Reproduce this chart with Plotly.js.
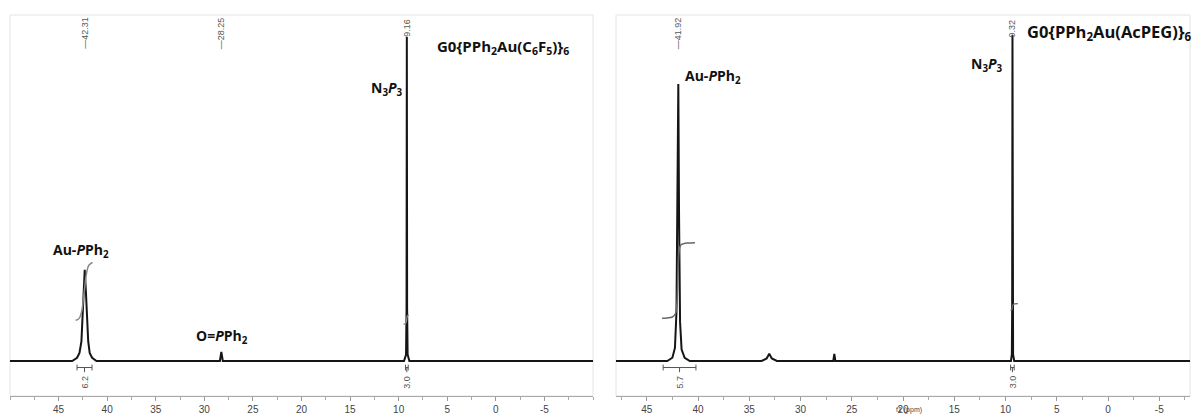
<!DOCTYPE html>
<html>
<head>
<meta charset="utf-8">
<script src="https://cdn.plot.ly/plotly-3.0.1.min.js"></script>
<style>html,body{margin:0;padding:0;background:#fff;}#chart{width:1192px;height:414px;}</style>
</head>
<body>
<div id="chart"></div>
<script>
// ---------- DATA ----------
// Left spectrum: G0{PPh2Au(C6F5)}6  (ppm, relative intensity)
const leftPpm = [50, 43.6, 43.1, 42.85, 42.65, 42.5, 42.4, 42.31, 42.2, 42.1, 41.95, 41.8, 41.55, 41.1,
                 28.4, 28.25, 28.1, 9.45, 9.24, 9.19, 9.16, 9.13, 9.08, 8.9, -10];
const leftInt = [0, 0, 0.01, 0.025, 0.06, 0.15, 0.24, 0.28, 0.22, 0.13, 0.06, 0.025, 0.01, 0,
                 0, 0.028, 0, 0, 0.02, 0.16, 0.995, 0.16, 0.02, 0, 0];
// Left integral curves
const leftIntegAuPpm = [43.25, 43.0, 42.8, 42.6, 42.45, 42.31, 42.2, 42.05, 41.9, 41.7, 41.5];
const leftIntegAuVal = [0.125, 0.128, 0.135, 0.155, 0.19, 0.225, 0.255, 0.28, 0.293, 0.299, 0.302];
const leftIntegNPpm = [9.5, 9.3, 9.2, 9.16, 9.1, 8.95];
const leftIntegNVal = [0.112, 0.115, 0.122, 0.132, 0.139, 0.141];
// Left peak picks and integrations
const leftPeaks = [42.31, 28.25, 9.16];
const leftPeakText = ['\u201442.31', '\u201428.25', '9.16'];
const leftRanges = [[43.1, 41.56], [9.3, 9.02]];
const leftRangeVals = ['6.2', '3.0'];

// Right spectrum: G0{PPh2Au(AcPEG)}6
const rightPpm = [48, 43.0, 42.5, 42.25, 42.1, 42.0, 41.92, 41.85, 41.75, 41.6, 41.3, 40.8,
                  33.8, 33.3, 33.05, 32.8, 32.3, 26.8, 26.7, 26.6,
                  9.47, 9.38, 9.35, 9.32, 9.29, 9.26, 9.15, -8];
const rightInt = [0, 0, 0.01, 0.04, 0.15, 0.45, 0.85, 0.45, 0.12, 0.035, 0.01, 0,
                  0, 0.008, 0.022, 0.008, 0, 0, 0.022, 0,
                  0, 0.02, 0.16, 1.0, 0.16, 0.02, 0, 0];
const rightIntegAuPpm = [43.5, 43.0, 42.5, 42.2, 42.05, 41.95, 41.85, 41.7, 41.4, 40.9, 40.3];
const rightIntegAuVal = [0.131, 0.132, 0.135, 0.145, 0.18, 0.27, 0.335, 0.355, 0.36, 0.362, 0.363];
const rightIntegNPpm = [9.5, 9.36, 9.32, 9.28, 9.1, 8.8];
const rightIntegNVal = [0.155, 0.158, 0.166, 0.172, 0.175, 0.176];
const rightPeaks = [41.92, 9.32];
const rightPeakText = ['\u201441.92', '9.32'];
const rightRanges = [[43.4, 40.2], [9.5, 9.15]];
const rightRangeVals = ['5.7', '3.0'];

// Axis ticks
const tickVals = [45, 40, 35, 30, 25, 20, 15, 10, 5, 0, -5];
const tickText = ['45', '40', '35', '30', '25', '20', '15', '10', '5', '0', '-5'];

// ---------- LAYOUT HELPERS ----------
const W = 1192, H = 414;
const px = x => x / W;
const py = y => 1 - y / H;
const tick = 0.009;     // bracket end-tick half height (data units)
const brY = -0.02;      // bracket level below baseline

function bracket(ranges, xa, ya) {
  const xs = [], ys = [];
  ranges.forEach(r => {
    const a = r[0], b = r[1], m = (a + b) / 2;
    xs.push(a, a, null, a, b, null, b, b, null, m, m, null);
    ys.push(brY - tick, brY + tick, null, brY, brY, null, brY - tick, brY + tick, null, brY, brY - 1.6 * tick, null);
  });
  return {x: xs, y: ys, xaxis: xa, yaxis: ya, mode: 'lines', line: {color: '#555', width: 1}, hoverinfo: 'skip'};
}

const traces = [
  {x: leftPpm, y: leftInt, xaxis: 'x', yaxis: 'y', mode: 'lines', line: {color: '#151515', width: 2}},
  {x: leftIntegAuPpm, y: leftIntegAuVal, xaxis: 'x', yaxis: 'y', mode: 'lines', line: {color: '#8a8a8a', width: 1.5, shape: 'spline'}},
  {x: leftIntegNPpm, y: leftIntegNVal, xaxis: 'x', yaxis: 'y', mode: 'lines', line: {color: '#8a8a8a', width: 1.3, shape: 'spline'}},
  bracket(leftRanges, 'x', 'y'),
  {x: rightPpm, y: rightInt, xaxis: 'x2', yaxis: 'y2', mode: 'lines', line: {color: '#151515', width: 2}},
  {x: rightIntegAuPpm, y: rightIntegAuVal, xaxis: 'x2', yaxis: 'y2', mode: 'lines', line: {color: '#666', width: 1.5, shape: 'spline'}},
  {x: rightIntegNPpm, y: rightIntegNVal, xaxis: 'x2', yaxis: 'y2', mode: 'lines', line: {color: '#666', width: 1.3, shape: 'spline'}},
  bracket(rightRanges, 'x2', 'y2')
];

const yRange = [-35 / 326, 346 / 326];
const yDom = [py(396), py(15)];

const xCommon = {
  tickmode: 'array', tickvals: tickVals, ticktext: tickText,
  ticks: 'outside', ticklen: 4, tickcolor: '#999', tickwidth: 1,
  minor: {tickmode: 'linear', tick0: 0, dtick: 2.5, ticks: 'outside', ticklen: 3, tickcolor: '#aaa'},
  showline: true, linecolor: '#a8a8a8', linewidth: 1,
  showgrid: false, zeroline: false,
  tickfont: {family: 'Liberation Sans, Arial, sans-serif', size: 10, color: '#444'},
  fixedrange: true
};
const yCommon = {range: yRange, domain: yDom, visible: false, showgrid: false, zeroline: false, fixedrange: true};

const chemFont = {family: 'Open Sans, Liberation Sans, sans-serif', size: 14, color: '#111'};
const titleFont = {family: 'Open Sans, Liberation Sans, sans-serif', size: 15, color: '#111'};
const titleFont2 = {family: 'Open Sans, Liberation Sans, sans-serif', size: 16.5, color: '#111'};
const smallFont = {family: 'Liberation Sans, Arial, sans-serif', size: 9, color: '#555'};

const annotations = [];
function label(text, x, y, xanchor, font, yanchor) {
  annotations.push({text: text, x: px(x), y: py(y), xref: 'paper', yref: 'paper',
    xanchor: xanchor, yanchor: yanchor || 'middle', showarrow: false, font: font});
}
label('<b>G0{PPh<sub>2</sub>Au(C<sub>6</sub>F<sub>5</sub>)}<sub>6</sub></b>', 435, 47, 'left', titleFont);
label('<b>N<sub>3</sub><i>P</i><sub>3</sub></b>', 405, 88, 'right', chemFont);
label('<b>Au-<i>P</i>Ph<sub>2</sub></b>', 81, 250, 'center', chemFont);
label('<b>O=<i>P</i>Ph<sub>2</sub></b>', 222, 336, 'center', chemFont);
label('<b>G0{PPh<sub>2</sub>Au(AcPEG)}<sub>6</sub></b>', 1025, 32, 'left', titleFont2);
label('<b>N<sub>3</sub><i>P</i><sub>3</sub></b>', 1005, 64, 'right', chemFont);
label('<b>Au-<i>P</i>Ph<sub>2</sub></b>', 683, 76, 'left', chemFont);
label('f1 (ppm)', 909, 416, 'center', {family: 'Liberation Sans, Arial, sans-serif', size: 7, color: '#444'}, 'bottom');

function peakLabels(peaks, texts, xref) {
  peaks.forEach((p, i) => {
    annotations.push({text: texts[i], x: p, xref: xref, y: py(texts[i].length > 4 ? 15 : 17), yref: 'paper',
      xanchor: 'center', yanchor: 'top', textangle: -90, showarrow: false, font: smallFont});
  });
}
peakLabels(leftPeaks, leftPeakText, 'x');
peakLabels(rightPeaks, rightPeakText, 'x2');

function rangeLabels(ranges, vals, xref, yref) {
  ranges.forEach((r, i) => {
    annotations.push({text: vals[i], x: (r[0] + r[1]) / 2, xref: xref, y: brY - 2 * tick, yref: yref,
      xanchor: 'center', yanchor: 'top', textangle: -90, showarrow: false, font: smallFont});
  });
}
rangeLabels(leftRanges, leftRangeVals, 'x', 'y');
rangeLabels(rightRanges, rightRangeVals, 'x2', 'y2');

const shapes = [
  {type: 'rect', xref: 'paper', yref: 'paper', x0: px(10), x1: px(593), y0: py(396), y1: py(15),
   line: {color: '#e4e4e4', width: 1}, layer: 'below'},
  {type: 'rect', xref: 'paper', yref: 'paper', x0: px(616), x1: px(1190), y0: py(396), y1: py(15),
   line: {color: '#e4e4e4', width: 1}, layer: 'below'}
];

const layout = {
  width: W, height: H, margin: {l: 0, r: 0, t: 0, b: 0},
  paper_bgcolor: '#fff', plot_bgcolor: '#fff', showlegend: false,
  xaxis: Object.assign({}, xCommon, {domain: [px(10), px(593)], range: [50, -10], anchor: 'y'}),
  yaxis: Object.assign({}, yCommon, {anchor: 'x'}),
  xaxis2: Object.assign({}, xCommon, {domain: [px(616), px(1190)], range: [48, -8], anchor: 'y2'}),
  yaxis2: Object.assign({}, yCommon, {anchor: 'x2'}),
  annotations: annotations, shapes: shapes
};

Plotly.newPlot('chart', traces, layout, {staticPlot: true, displayModeBar: false});
</script>
</body>
</html>
